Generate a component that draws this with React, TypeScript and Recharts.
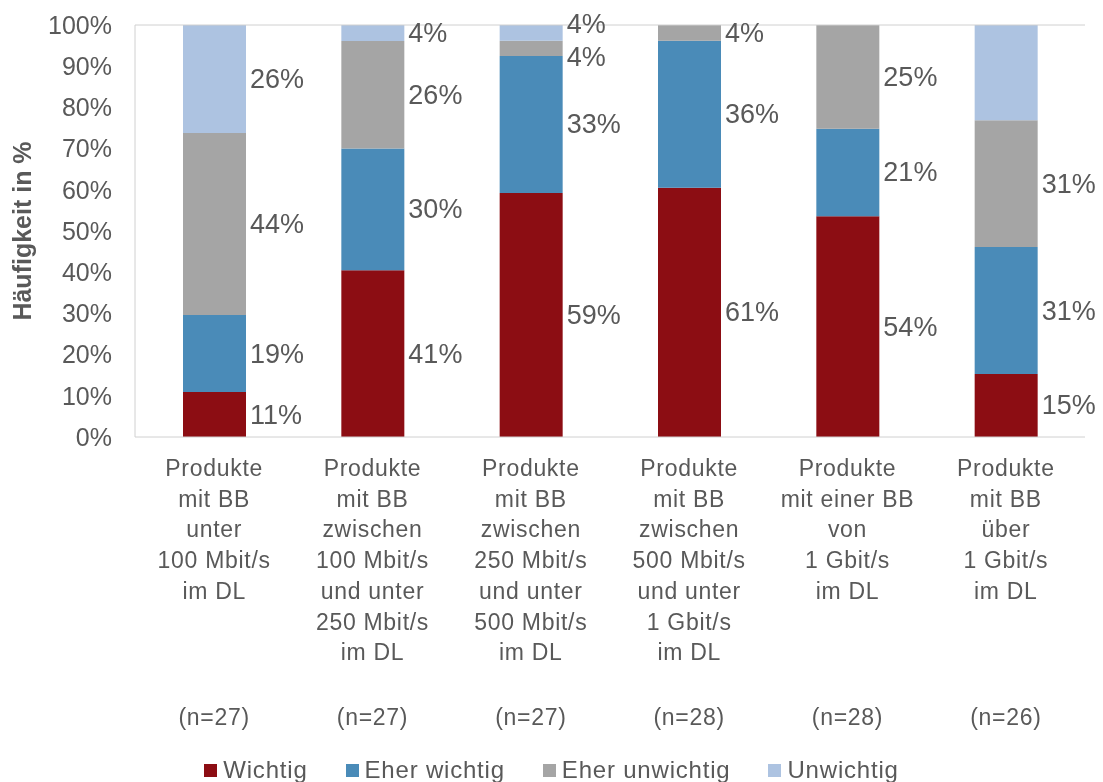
import { Bar, BarChart, ReferenceLine, XAxis, YAxis } from "recharts";

const categories = [
  "Produkte\nmit BB\nunter\n100 Mbit/s\nim DL",
  "Produkte\nmit BB\nzwischen\n100 Mbit/s\nund unter\n250 Mbit/s\nim DL",
  "Produkte\nmit BB\nzwischen\n250 Mbit/s\nund unter\n500 Mbit/s\nim DL",
  "Produkte\nmit BB\nzwischen\n500 Mbit/s\nund unter\n1 Gbit/s\nim DL",
  "Produkte\nmit einer BB\nvon\n1 Gbit/s\nim DL",
  "Produkte\nmit BB\nüber\n1 Gbit/s\nim DL",
];
const sampleSizes = [27, 27, 27, 28, 28, 26];

// shares in %
const wichtig = [10.9, 40.5, 59.2, 60.5, 53.6, 15.3];
const eherWichtig = [18.7, 29.5, 33.3, 35.7, 21.2, 30.8];
const eherUnwichtig = [44.2, 26.1, 3.7, 3.8, 25.2, 30.8];
const unwichtig = [26.2, 3.9, 3.8, 0, 0, 23.1];

const yTicks = [0, 10, 20, 30, 40, 50, 60, 70, 80, 90, 100];

const TEXT = "#595959";
const FRAME = "#d0d0d0";
const FONT = "'Liberation Sans', Arial, sans-serif";

const series = [
  { key: "Wichtig", values: wichtig, color: "#8c0d13" },
  { key: "Eher wichtig", values: eherWichtig, color: "#4a8bb8" },
  { key: "Eher unwichtig", values: eherUnwichtig, color: "#a5a5a5" },
  { key: "Unwichtig", values: unwichtig, color: "#adc3e1" },
];

const data = categories.map((category, i) => {
  const row: Record<string, string | number> = { category };
  series.forEach((s) => (row[s.key] = s.values[i]));
  return row;
});

// label centres in value space; small neighbouring segments get pushed apart
const MIN_GAP = 8.2;
const segMids = categories.map((_, i) => {
  let start = 0;
  return series.map((s) => {
    const m = start + s.values[i] / 2;
    start += s.values[i];
    return m;
  });
});
const labelPos = segMids.map((mids, i) => {
  const pos = [...mids];
  const idx = series.map((_, k) => k).filter((k) => series[k].values[i] > 0);
  for (let pass = 0; pass < 3; pass++) {
    for (let j = 1; j < idx.length; j++) {
      const a = idx[j - 1];
      const b = idx[j];
      const gap = pos[b] - pos[a];
      if (gap < MIN_GAP) {
        const d = (MIN_GAP - gap) / 2;
        pos[a] -= d;
        pos[b] += d;
      }
    }
  }
  return pos;
});

const makeLabel = (si: number) => (props: any) => {
  const vb = props.viewBox ?? props;
  const i = props.index;
  const v = series[si].values[i];
  if (!v || vb == null) return null;
  const top = Math.min(vb.y, vb.y + vb.height);
  const h = Math.abs(vb.height);
  const ppu = h / v;
  const cy = top + h / 2 - (labelPos[i][si] - segMids[i][si]) * ppu;
  return (
    <text
      x={vb.x + vb.width + 4}
      y={cy}
      fill={TEXT}
      fontSize={27}
      fontFamily={FONT}
      dominantBaseline="central"
    >
      {Math.round(v)}%
    </text>
  );
};

function CategoryTick(props: any) {
  const { x, y, payload, index } = props;
  const lines = String(payload.value).split("\n");
  return (
    <g>
      <text
        textAnchor="middle"
        fill={TEXT}
        fontSize={23}
        letterSpacing={0.7}
        fontFamily={FONT}
      >
        {lines.map((l, k) => (
          <tspan key={k} x={x} y={y + 39 + k * 30.7}>
            {l}
          </tspan>
        ))}
      </text>
      <text
        x={x}
        y={y + 288}
        textAnchor="middle"
        fill={TEXT}
        fontSize={23}
        letterSpacing={0.7}
        fontFamily={FONT}
      >
        (n={sampleSizes[index]})
      </text>
    </g>
  );
}

export default function App() {
  return (
    <div style={{ position: "fixed", left: 0, top: 0, width: 1103, height: 782, fontFamily: FONT }}>
      <BarChart
        width={1103}
        height={782}
        data={data}
        margin={{ top: 25, right: 18, left: 0, bottom: 0 }}
        barSize={63}
      >
        <XAxis
          dataKey="category"
          height={345}
          interval={0}
          tickLine={false}
          tickSize={0}
          tickMargin={0}
          axisLine={{ stroke: FRAME }}
          tick={<CategoryTick />}
        />
        <YAxis
          width={135}
          domain={[0, 100]}
          ticks={yTicks}
          tickFormatter={(v) => `${v}%`}
          tickLine={false}
          tickMargin={17}
          axisLine={{ stroke: FRAME }}
          tick={{ fill: TEXT, fontSize: 25, fontFamily: FONT }}
          label={{
            content: ({ viewBox }: any) => {
              const cx = 22;
              const cy = viewBox.y + viewBox.height / 2;
              return (
                <text
                  x={cx}
                  y={cy}
                  transform={`rotate(-90 ${cx} ${cy})`}
                  textAnchor="middle"
                  dominantBaseline="central"
                  fill={TEXT}
                  fontSize={25}
                  fontWeight="bold"
                  fontFamily={FONT}
                >
                  Häufigkeit in %
                </text>
              );
            },
          }}
        />
        <YAxis
          yAxisId="right"
          orientation="right"
          width={0}
          domain={[0, 100]}
          tick={false}
          tickLine={false}
          axisLine={{ stroke: "#ececec" }}
        />
        <ReferenceLine y={100} stroke={FRAME} />
        {series.map((s, si) => (
          <Bar
            key={s.key}
            dataKey={s.key}
            stackId="a"
            fill={s.color}
            isAnimationActive={false}
            label={makeLabel(si)}
          />
        ))}
      </BarChart>
      <div
        style={{
          position: "absolute",
          left: 0,
          top: 755,
          width: 1103,
          height: 30,
          lineHeight: "30px",
          display: "flex",
          justifyContent: "center",
          alignItems: "center",
          gap: 38,
          color: TEXT,
          fontSize: 24,
          letterSpacing: 0.8,
        }}
      >
        {series.map((s) => (
          <div key={s.key} style={{ display: "flex", alignItems: "center" }}>
            <span
              style={{ width: 13, height: 13, background: s.color, marginRight: 6, display: "inline-block" }}
            />
            <span>{s.key}</span>
          </div>
        ))}
      </div>
    </div>
  );
}
